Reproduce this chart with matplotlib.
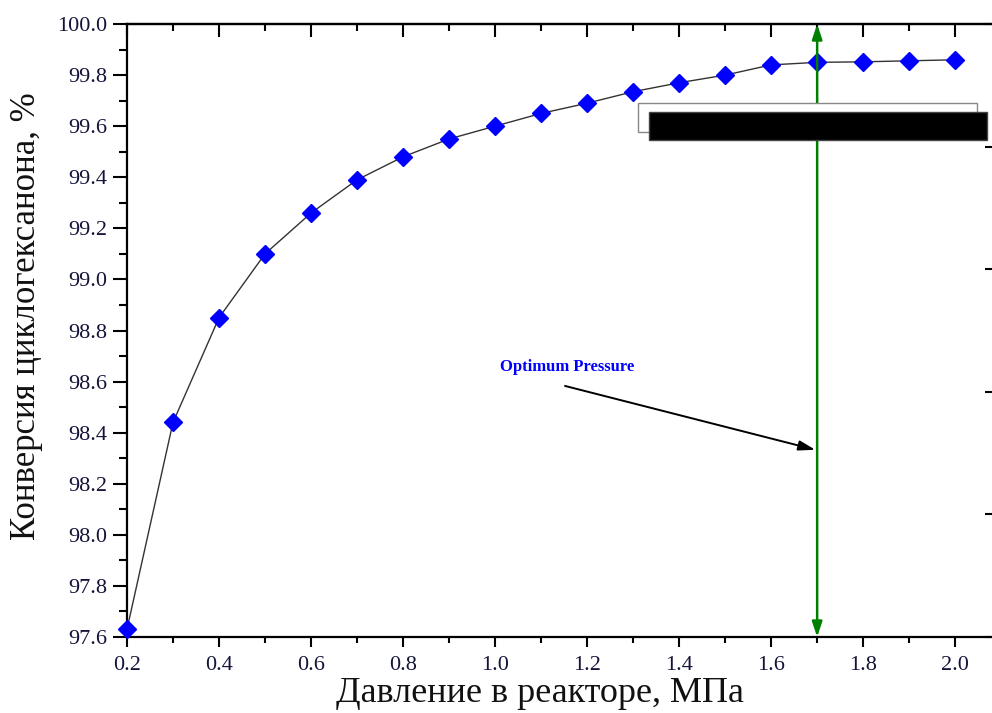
import matplotlib
matplotlib.use("Agg")
import matplotlib.pyplot as plt
from matplotlib.ticker import MultipleLocator
from matplotlib.patches import Rectangle

pressure = [0.2, 0.3, 0.4, 0.5, 0.6, 0.7, 0.8, 0.9, 1.0, 1.1,
            1.2, 1.3, 1.4, 1.5, 1.6, 1.7, 1.8, 1.9, 2.0]
conversion = [97.63, 98.44, 98.85, 99.10, 99.26, 99.39, 99.48, 99.55, 99.60, 99.65,
              99.69, 99.735, 99.77, 99.80, 99.84, 99.85, 99.852, 99.856, 99.86]
x_ticks = [0.2, 0.4, 0.6, 0.8, 1.0, 1.2, 1.4, 1.6, 1.8, 2.0]
y_ticks = [97.6, 97.8, 98.0, 98.2, 98.4, 98.6, 98.8, 99.0, 99.2, 99.4, 99.6, 99.8, 100.0]
optimum_x = 1.7
xlabel = "Давление в реакторе, МПа"
ylabel = "Конверсия циклогексанона, %"
annot_text = "Optimum Pressure"

serif = "Liberation Serif"
tick_color = "#14143a"

fig = plt.figure(figsize=(9.92, 7.13), dpi=100)
ax = fig.add_axes([0.128, 0.1066, 0.872, 0.8597])

ax.plot(pressure, conversion, color="#333333", lw=1.0, zorder=2)
ax.plot(pressure, conversion, ls="none", marker="D", ms=9,
        mfc="#0000ff", mec="#0000ff", zorder=3, clip_on=False)

ax.set_xlim(0.2, 2.08)
ax.set_ylim(97.6, 100.0)
ax.set_xticks(x_ticks)
ax.set_yticks(y_ticks)
ax.set_xticklabels([f"{v:.1f}" for v in x_ticks])
ax.set_yticklabels([f"{v:.1f}" for v in y_ticks])
ax.xaxis.set_minor_locator(MultipleLocator(0.1))
ax.yaxis.set_minor_locator(MultipleLocator(0.1))

for s in ["left", "bottom", "top"]:
    ax.spines[s].set_linewidth(1.6)
ax.spines["right"].set_visible(False)

ax.tick_params(axis="y", which="major", direction="out", length=10, width=1.5,
               labelsize=16, labelcolor=tick_color, pad=4)
ax.tick_params(axis="y", which="minor", direction="out", length=5.5, width=1.5)
ax.tick_params(axis="x", which="major", direction="out", length=7.5, width=1.5,
               labelsize=16, labelcolor=tick_color, pad=6)
ax.tick_params(axis="x", which="minor", direction="out", length=4.5, width=1.5)
for lab in ax.get_xticklabels() + ax.get_yticklabels():
    lab.set_fontfamily(serif)

top = ax.secondary_xaxis("top")
top.set_xticks(x_ticks)
top.xaxis.set_minor_locator(MultipleLocator(0.1))
top.tick_params(which="major", direction="in", length=9, width=1.5, labeltop=False)
top.tick_params(which="minor", direction="in", length=5, width=1.5)
top.spines["top"].set_linewidth(1.6)

right = ax.twinx()
right.set_ylim(0, 5)
right.set_yticks([0, 1, 2, 3, 4, 5])
right.tick_params(axis="y", direction="in", length=5, width=1.5, labelright=False)
for s in ["right", "top", "left", "bottom"]:
    right.spines[s].set_visible(False)

ax.set_xlabel(xlabel, fontfamily=serif, fontsize=26, color="#111111")
ax.xaxis.set_label_coords(0.477, -0.066)
ax.set_ylabel(ylabel, fontfamily=serif, fontsize=25, color="#111111")
ax.yaxis.set_label_coords(-0.097, 0.524)

# green vertical double arrow
ax.annotate("", xy=(optimum_x, 100.0), xytext=(optimum_x, 97.6),
            arrowprops=dict(arrowstyle="<|-|>,head_length=0.9,head_width=0.3",
                            color="#008000", lw=1.8, shrinkA=0, shrinkB=0),
            annotation_clip=False, zorder=4)

# annotation
ax.text(1.157, 98.657, annot_text, fontfamily=serif, fontweight="bold",
        fontsize=12, color="#0000ff", ha="center", va="center")
ax.annotate("", xy=(1.696, 98.333), xytext=(1.152, 98.583),
            arrowprops=dict(arrowstyle="-|>,head_length=1.0,head_width=0.3",
                            color="black", lw=1.4, shrinkA=0, shrinkB=0))

# redacted legend boxes
ax.add_patch(Rectangle((0.5908, 0.8238), 0.3919, 0.0472, transform=ax.transAxes,
                       facecolor="white", edgecolor="#888888", lw=1.0, zorder=5))
ax.add_patch(Rectangle((0.6035, 0.8108), 0.3907, 0.0456, transform=ax.transAxes,
                       facecolor="black", edgecolor="#444444", lw=1.0, zorder=6))

fig.savefig("out.png", dpi=100)
